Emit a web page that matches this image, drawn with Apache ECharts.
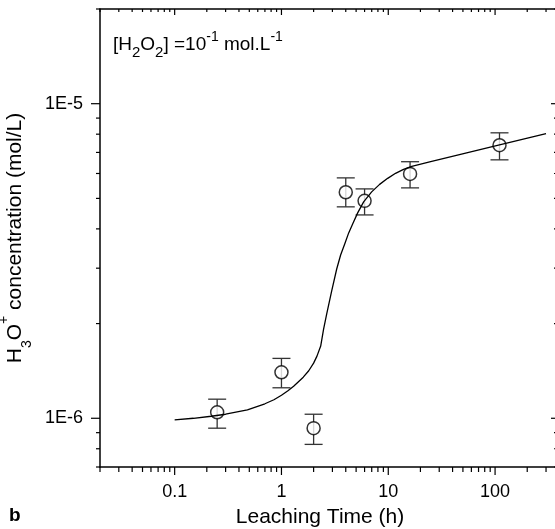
<!DOCTYPE html>
<html>
<head>
<meta charset="utf-8">
<script src="https://cdn.jsdelivr.net/npm/echarts@6/dist/echarts.min.js"></script>
<style>
  html, body { margin: 0; padding: 0; background: #fff; }
  #chart { width: 555px; height: 529px; }
</style>
</head>
<body>
<div id="chart"></div>
<script>
// measured points: leaching time (h) vs H3O+ (mol/L), with error bar limits
const timeH = [0.25, 1, 2, 4, 6, 16, 110];
const conc = [1.045e-6, 1.40e-6, 0.93e-6, 5.23e-6, 4.91e-6, 5.98e-6, 7.38e-6];
const concLow = [0.93e-6, 1.25e-6, 0.826e-6, 4.70e-6, 4.43e-6, 5.40e-6, 6.63e-6];
const concHigh = [1.15e-6, 1.55e-6, 1.03e-6, 5.81e-6, 5.36e-6, 6.54e-6, 8.08e-6];

// fitted curve (lower branch up to 2.33 h, then upper branch)
const fitX = [0.1, 0.15, 0.22, 0.3, 0.48, 0.7, 0.85, 1, 1.15, 1.3, 1.6, 1.8, 2, 2.15, 2.33,
  2.48, 2.65, 2.95, 3.29, 3.58, 3.91, 4.26, 4.64, 5.17, 5.88, 6.99, 8.3, 9.87, 11.7, 13.9, 16.6, 24.4, 54.2, 110, 300];
const fitY = [0.989e-6, 1.0e-6, 1.015e-6, 1.03e-6, 1.064e-6, 1.112e-6, 1.145e-6, 1.184e-6, 1.223e-6, 1.264e-6,
  1.351e-6, 1.416e-6, 1.497e-6, 1.576e-6, 1.696e-6,
  1.92e-6, 2.144e-6, 2.538e-6, 2.982e-6, 3.305e-6, 3.583e-6, 3.884e-6, 4.148e-6, 4.497e-6, 4.874e-6,
  5.245e-6, 5.541e-6, 5.79e-6, 6.007e-6, 6.186e-6, 6.324e-6, 6.536e-6, 6.982e-6, 7.404e-6, 8.026e-6];

// axis ticks
const xMajor = [0.1, 1, 10, 100];
const xMajorLabels = ['0.1', '1', '10', '100'];
const xMinor = [0.02, 0.03, 0.04, 0.05, 0.06, 0.07, 0.08, 0.09,
  0.2, 0.3, 0.4, 0.5, 0.6, 0.7, 0.8, 0.9,
  2, 3, 4, 5, 6, 7, 8, 9,
  20, 30, 40, 50, 60, 70, 80, 90,
  200, 300];
const yMajor = [1e-6, 1e-5];
const yMajorLabels = ['1E-6', '1E-5'];
const yMinor = [7e-7, 8e-7, 9e-7, 2e-6, 3e-6, 4e-6, 5e-6, 6e-6, 7e-6, 8e-6, 9e-6, 2e-5];

const X_MIN = 0.02, X_MAX = 380, Y_MIN = 7e-7, Y_MAX = 2e-5;
const FONT = "'Liberation Sans', Arial, Helvetica, sans-serif";

function pickLabel(v, vals, labels) {
  for (let i = 0; i < vals.length; i++) {
    if (Math.abs(Math.log10(v) - Math.log10(vals[i])) < 1e-6) return labels[i];
  }
  return '';
}

function tickLine(x1, y1, x2, y2) {
  return { type: 'line', shape: { x1: x1, y1: y1, x2: x2, y2: y2 }, style: { stroke: '#000', lineWidth: 1.2 } };
}

const chart = echarts.init(document.getElementById('chart'));

const axisLineStyle = { show: true, onZero: false, lineStyle: { color: '#000', width: 1.5 } };

const option = {
  animation: false,
  backgroundColor: '#fff',
  grid: { left: 100, top: 9, width: 457, height: 458, containLabel: false, outerBoundsMode: 'none' },
  xAxis: [
    {
      type: 'log', logBase: 10, min: X_MIN, max: X_MAX, position: 'bottom',
      axisLine: axisLineStyle,
      axisTick: { show: false }, splitLine: { show: false },
      axisLabel: {
        margin: 16, fontSize: 18, fontFamily: FONT, color: '#000',
        showMinLabel: false, showMaxLabel: false,
        formatter: v => pickLabel(v, xMajor, xMajorLabels)
      },
      name: 'Leaching Time (h)', nameLocation: 'middle', nameGap: 40,
      nameTextStyle: { fontSize: 21, fontFamily: FONT, color: '#000', padding: [0, 17, 0, 0] }
    },
    {
      type: 'log', logBase: 10, min: X_MIN, max: X_MAX, position: 'top',
      axisLine: axisLineStyle, axisTick: { show: false }, axisLabel: { show: false }, splitLine: { show: false }
    }
  ],
  yAxis: [
    {
      type: 'log', logBase: 10, min: Y_MIN, max: Y_MAX, position: 'left',
      axisLine: axisLineStyle,
      axisTick: { show: false }, splitLine: { show: false },
      axisLabel: {
        margin: 17, fontSize: 18, fontFamily: FONT, color: '#000',
        showMinLabel: false, showMaxLabel: false,
        formatter: v => pickLabel(v, yMajor, yMajorLabels)
      },
      name: '{n|H}{sub|3}{n|O}{sup|+}{n| concentration (mol/L)}',
      nameLocation: 'middle', nameGap: 61,
      nameTextStyle: {
        fontSize: 21, fontFamily: FONT, color: '#000',
        rich: {
          n: { fontSize: 21, fontFamily: FONT, color: '#000', lineHeight: 37, verticalAlign: 'middle' },
          sub: { fontSize: 14, fontFamily: FONT, color: '#000', lineHeight: 14, verticalAlign: 'bottom' },
          sup: { fontSize: 14, fontFamily: FONT, color: '#000', lineHeight: 17, verticalAlign: 'top' }
        }
      }
    },
    {
      type: 'log', logBase: 10, min: Y_MIN, max: Y_MAX, position: 'right',
      axisLine: axisLineStyle, axisTick: { show: false }, axisLabel: { show: false }, splitLine: { show: false }
    }
  ],
  graphic: [
    {
      type: 'text', x: 113, y: 30, z: 10,
      style: {
        text: '{n|[H}{sub|2}{n|O}{sub|2}{n|] =10}{sup|-1}{n| mol.L}{sup|-1}',
        verticalAlign: 'top', align: 'left',
        rich: {
          n: { fontSize: 19, fontFamily: FONT, fill: '#000', lineHeight: 30, verticalAlign: 'middle' },
          sub: { fontSize: 15, fontFamily: FONT, fill: '#000', lineHeight: 15, verticalAlign: 'bottom' },
          sup: { fontSize: 14, fontFamily: FONT, fill: '#000', lineHeight: 23, verticalAlign: 'top' }
        }
      }
    },
    {
      type: 'text', x: 9, y: 516, z: 10,
      style: { text: 'b', fontSize: 19, fontWeight: 'bold', fontFamily: FONT, fill: '#000', verticalAlign: 'middle' }
    }
  ],
  series: [
    {
      // x ticks: bottom outward, top inward
      type: 'custom', xAxisIndex: 0, yAxisIndex: 0, clip: false, silent: true, z: 5,
      encode: { x: 0, y: 1 },
      data: xMajor.map(v => [v, Y_MIN, 1]).concat(xMinor.map(v => [v, Y_MIN, 0])),
      renderItem: function (params, api) {
        const v = api.value(0), major = api.value(2) === 1;
        const b = api.coord([v, Y_MIN]), t = api.coord([v, Y_MAX]);
        const outLen = major ? 8 : 5, inLen = major ? 6 : 3;
        return {
          type: 'group', children: [
            tickLine(b[0], b[1], b[0], b[1] + outLen),
            tickLine(t[0], t[1], t[0], t[1] + inLen)
          ]
        };
      }
    },
    {
      // y ticks: left outward, right inward
      type: 'custom', xAxisIndex: 0, yAxisIndex: 0, clip: false, silent: true, z: 5,
      encode: { x: 0, y: 1 },
      data: yMajor.map(v => [X_MIN, v, 1]).concat(yMinor.map(v => [X_MIN, v, 0])),
      renderItem: function (params, api) {
        const v = api.value(1), major = api.value(2) === 1;
        const l = api.coord([X_MIN, v]), r = api.coord([X_MAX, v]);
        const outLen = major ? 9 : 4, inLen = major ? 6 : 3;
        return {
          type: 'group', children: [
            tickLine(l[0], l[1], l[0] - outLen, l[1]),
            tickLine(r[0], r[1], r[0] - inLen, r[1])
          ]
        };
      }
    },
    {
      // error bars
      type: 'custom', xAxisIndex: 0, yAxisIndex: 0, silent: true, z: 2,
      encode: { x: 0, y: [1, 2] },
      data: timeH.map((t, i) => [t, concLow[i], concHigh[i]]),
      renderItem: function (params, api) {
        const x = api.value(0);
        const hi = api.coord([x, api.value(2)]), lo = api.coord([x, api.value(1)]);
        const w = 9;
        const st = { stroke: '#333', lineWidth: 1.3 };
        return {
          type: 'group', children: [
            { type: 'line', shape: { x1: hi[0], y1: hi[1], x2: lo[0], y2: lo[1] }, style: st },
            { type: 'line', shape: { x1: hi[0] - w, y1: hi[1], x2: hi[0] + w, y2: hi[1] }, style: st },
            { type: 'line', shape: { x1: lo[0] - w, y1: lo[1], x2: lo[0] + w, y2: lo[1] }, style: st }
          ]
        };
      }
    },
    {
      type: 'scatter', xAxisIndex: 0, yAxisIndex: 0, z: 3,
      symbol: 'circle', symbolSize: 13,
      itemStyle: { color: '#fff', borderColor: '#000', borderWidth: 1.5 },
      data: timeH.map((t, i) => [t, conc[i]])
    },
    {
      type: 'line', xAxisIndex: 0, yAxisIndex: 0, z: 4,
      showSymbol: false, smooth: false,
      lineStyle: { color: '#000', width: 1.3 },
      data: fitX.map((x, i) => [x, fitY[i]])
    }
  ]
};

chart.setOption(option);
</script>
</body>
</html>
